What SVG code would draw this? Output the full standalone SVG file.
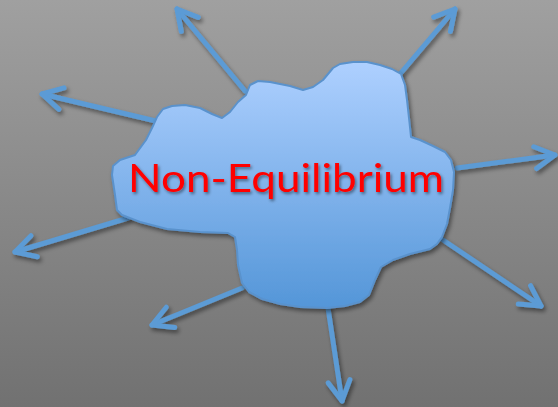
<svg xmlns="http://www.w3.org/2000/svg" width="558" height="407" viewBox="0 0 558 407">
  <defs>
    <linearGradient id="bg" x1="0" y1="0" x2="0" y2="1">
      <stop offset="0" stop-color="#a0a0a0"/>
      <stop offset="1" stop-color="#717171"/>
    </linearGradient>
    <linearGradient id="blobFill" x1="0" y1="62" x2="0" y2="308" gradientUnits="userSpaceOnUse">
      <stop offset="0" stop-color="#aed0ff"/>
      <stop offset="1" stop-color="#5496d8"/>
    </linearGradient>
    <filter id="shadow" x="-20%" y="-20%" width="140%" height="140%">
      <feDropShadow dx="2" dy="3" stdDeviation="2" flood-color="#000" flood-opacity="0.45"/>
    </filter>
    <filter id="textShadow" x="-10%" y="-30%" width="120%" height="160%">
      <feDropShadow dx="1.5" dy="2" stdDeviation="1.5" flood-color="#000" flood-opacity="0.45"/>
    </filter>
    <marker id="head" markerUnits="userSpaceOnUse" markerWidth="40" markerHeight="40" viewBox="-30 -20 40 40" refX="0" refY="0" orient="auto">
      <path d="M -20,-11 L 0,0 L -20,11" fill="none" stroke="#5b9bd5" stroke-width="5" stroke-linecap="round" stroke-linejoin="round"/>
    </marker>
    <style>
      .arrow { fill: none; stroke: #5b9bd5; stroke-width: 5; stroke-linecap: round; marker-end: url(#head); }
      .blob { fill: url(#blobFill); stroke: #5a92cc; stroke-width: 2; stroke-linejoin: round; }
      .label { font-family: Lato, "Open Sans", "Liberation Sans", sans-serif; font-size: 39px; fill: #ff0000; }
    </style>
  </defs>
  <rect x="0" y="0" width="558" height="407" fill="url(#bg)"/>
  <g id="connectors" filter="url(#shadow)">
    <line class="arrow" x1="245" y1="91" x2="177" y2="9"/>
    <line class="arrow" x1="400" y1="74" x2="455" y2="9"/>
    <line class="arrow" x1="160" y1="122" x2="42" y2="94"/>
    <line class="arrow" x1="457" y1="168" x2="555" y2="155"/>
    <line class="arrow" x1="128" y1="218" x2="15" y2="252"/>
    <line class="arrow" x1="242" y1="288" x2="152" y2="325"/>
    <line class="arrow" x1="328" y1="308" x2="342" y2="401"/>
    <line class="arrow" x1="443" y1="240" x2="541" y2="306"/>
  </g>
  <g id="node-non-equilibrium">
    <path class="blob" filter="url(#shadow)" d="M 333,68 L 340,64 L 353,62 L 367,62 L 380,65 L 392,69 L 401,74 L 405,85 L 407,100 L 409,118 L 411,137 L 420,140 L 433,146 L 445,152 L 451,160 L 454,172 L 453,190 L 450,208 L 447,224 L 442,237 L 437,244 L 430,249 L 410,254 L 393,260 L 381,267 L 375,280 L 369,295 L 360,302 L 345,306 L 327,308 L 300,307 L 280,304 L 262,299 L 249,292 L 242,283 L 238,265 L 237,250 L 235,237 L 228,233 L 200,232 L 167,229 L 140,222 L 122,215 L 117,210 L 115,195 L 112,175 L 113,166 L 120,160 L 135,155 L 146,140 L 152,128 L 157,117 L 163,109 L 172,106 L 185,105 L 200,108 L 212,114 L 222,118 L 230,112 L 238,102 L 246,95 L 250,85 L 258,81 L 270,82 L 290,86 L 303,90 L 313,87 L 323,80 Z"/>
    <text class="label" x="128" y="192" textLength="316" lengthAdjust="spacingAndGlyphs" filter="url(#textShadow)">Non-Equilibrium</text>
  </g>
</svg>
